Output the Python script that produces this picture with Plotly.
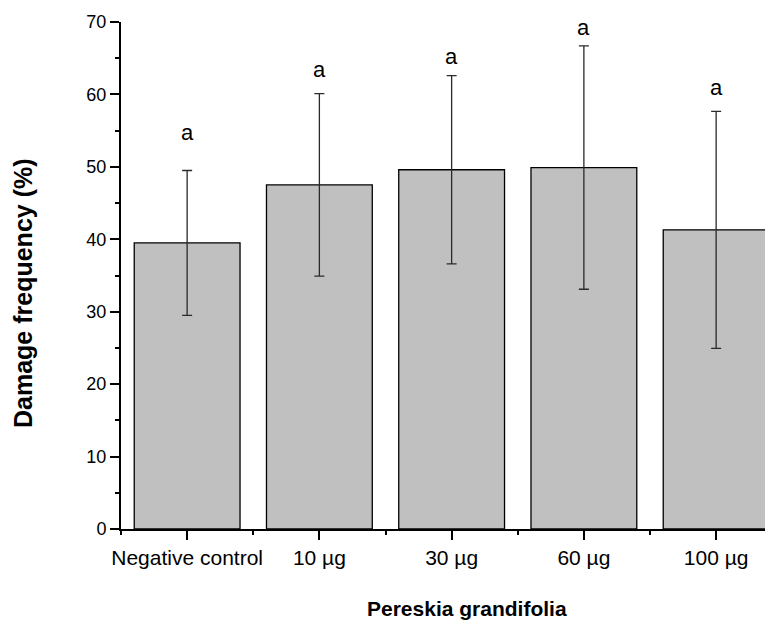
import plotly.graph_objects as go

categories = ["Negative control", "10 µg", "30 µg", "60 µg", "100 µg"]
damage_freq = [39.5, 47.5, 49.6, 49.9, 41.3]
error_sd = [10.0, 12.6, 13.0, 16.8, 16.35]
sig_letters = ["a", "a", "a", "a", "a"]
letter_heights = [54.7, 63.4, 65.3, 69.3, 60.9]
y_ticks = [0, 10, 20, 30, 40, 50, 60, 70]

FONT = "Liberation Sans, Arial, sans-serif"
x_pos = list(range(len(categories)))

fig = go.Figure()
fig.add_trace(go.Bar(
    x=x_pos, y=damage_freq, width=0.8,
    marker=dict(color="#C0C0C0", line=dict(color="#000000", width=1.3)),
    error_y=dict(type="data", array=error_sd, visible=True,
                 color="#2a2a2a", thickness=1.3, width=5),
    showlegend=False,
))

for xi, lab, h in zip(x_pos, sig_letters, letter_heights):
    fig.add_annotation(x=xi, y=h, text=lab, showarrow=False,
                       font=dict(family=FONT, size=22, color="#000"),
                       xanchor="center", yanchor="middle")

fig.add_annotation(xref="paper", yref="paper",
                   x=(23 - 121) / 652, y=(529 - 293) / 507,
                   text="<b>Damage frequency (%)</b>", textangle=-90,
                   showarrow=False, xanchor="center", yanchor="middle",
                   font=dict(family=FONT, size=25, color="#000"))
fig.add_annotation(xref="paper", yref="paper",
                   x=(467 - 121) / 652, y=-(608 - 529) / 507,
                   text="<b>Pereskia grandifolia</b>",
                   showarrow=False, xanchor="center", yanchor="middle",
                   font=dict(family=FONT, size=21, color="#000"))

fig.update_layout(
    width=765, height=617,
    margin=dict(l=113, r=0, t=14, b=96, pad=0),
    plot_bgcolor="white", paper_bgcolor="white",
    font=dict(family=FONT, color="#000"),
    xaxis=dict(
        range=[-0.5, 4.43], tickmode="array", tickvals=x_pos, ticktext=categories,
        showgrid=False, zeroline=False, showline=True, linecolor="#000", linewidth=2,
        ticks="outside", ticklen=9, tickwidth=2, tickcolor="#000",
        tickfont=dict(family=FONT, size=21, color="#000"),
        minor=dict(tick0=0.5, dtick=1, ticks="outside", ticklen=4, tickwidth=2,
                   tickcolor="#000", showgrid=False),
    ),
    yaxis=dict(
        range=[0, 70], tickmode="array", tickvals=y_ticks,
        showgrid=False, zeroline=False, showline=True, linecolor="#000", linewidth=2,
        ticks="outside", ticklen=9, tickwidth=2, tickcolor="#000",
        tickfont=dict(family=FONT, size=18, color="#000"),
        minor=dict(tick0=5, dtick=10, ticks="outside", ticklen=4, tickwidth=2,
                   tickcolor="#000", showgrid=False),
    ),
)

fig.write_html("out.html")
